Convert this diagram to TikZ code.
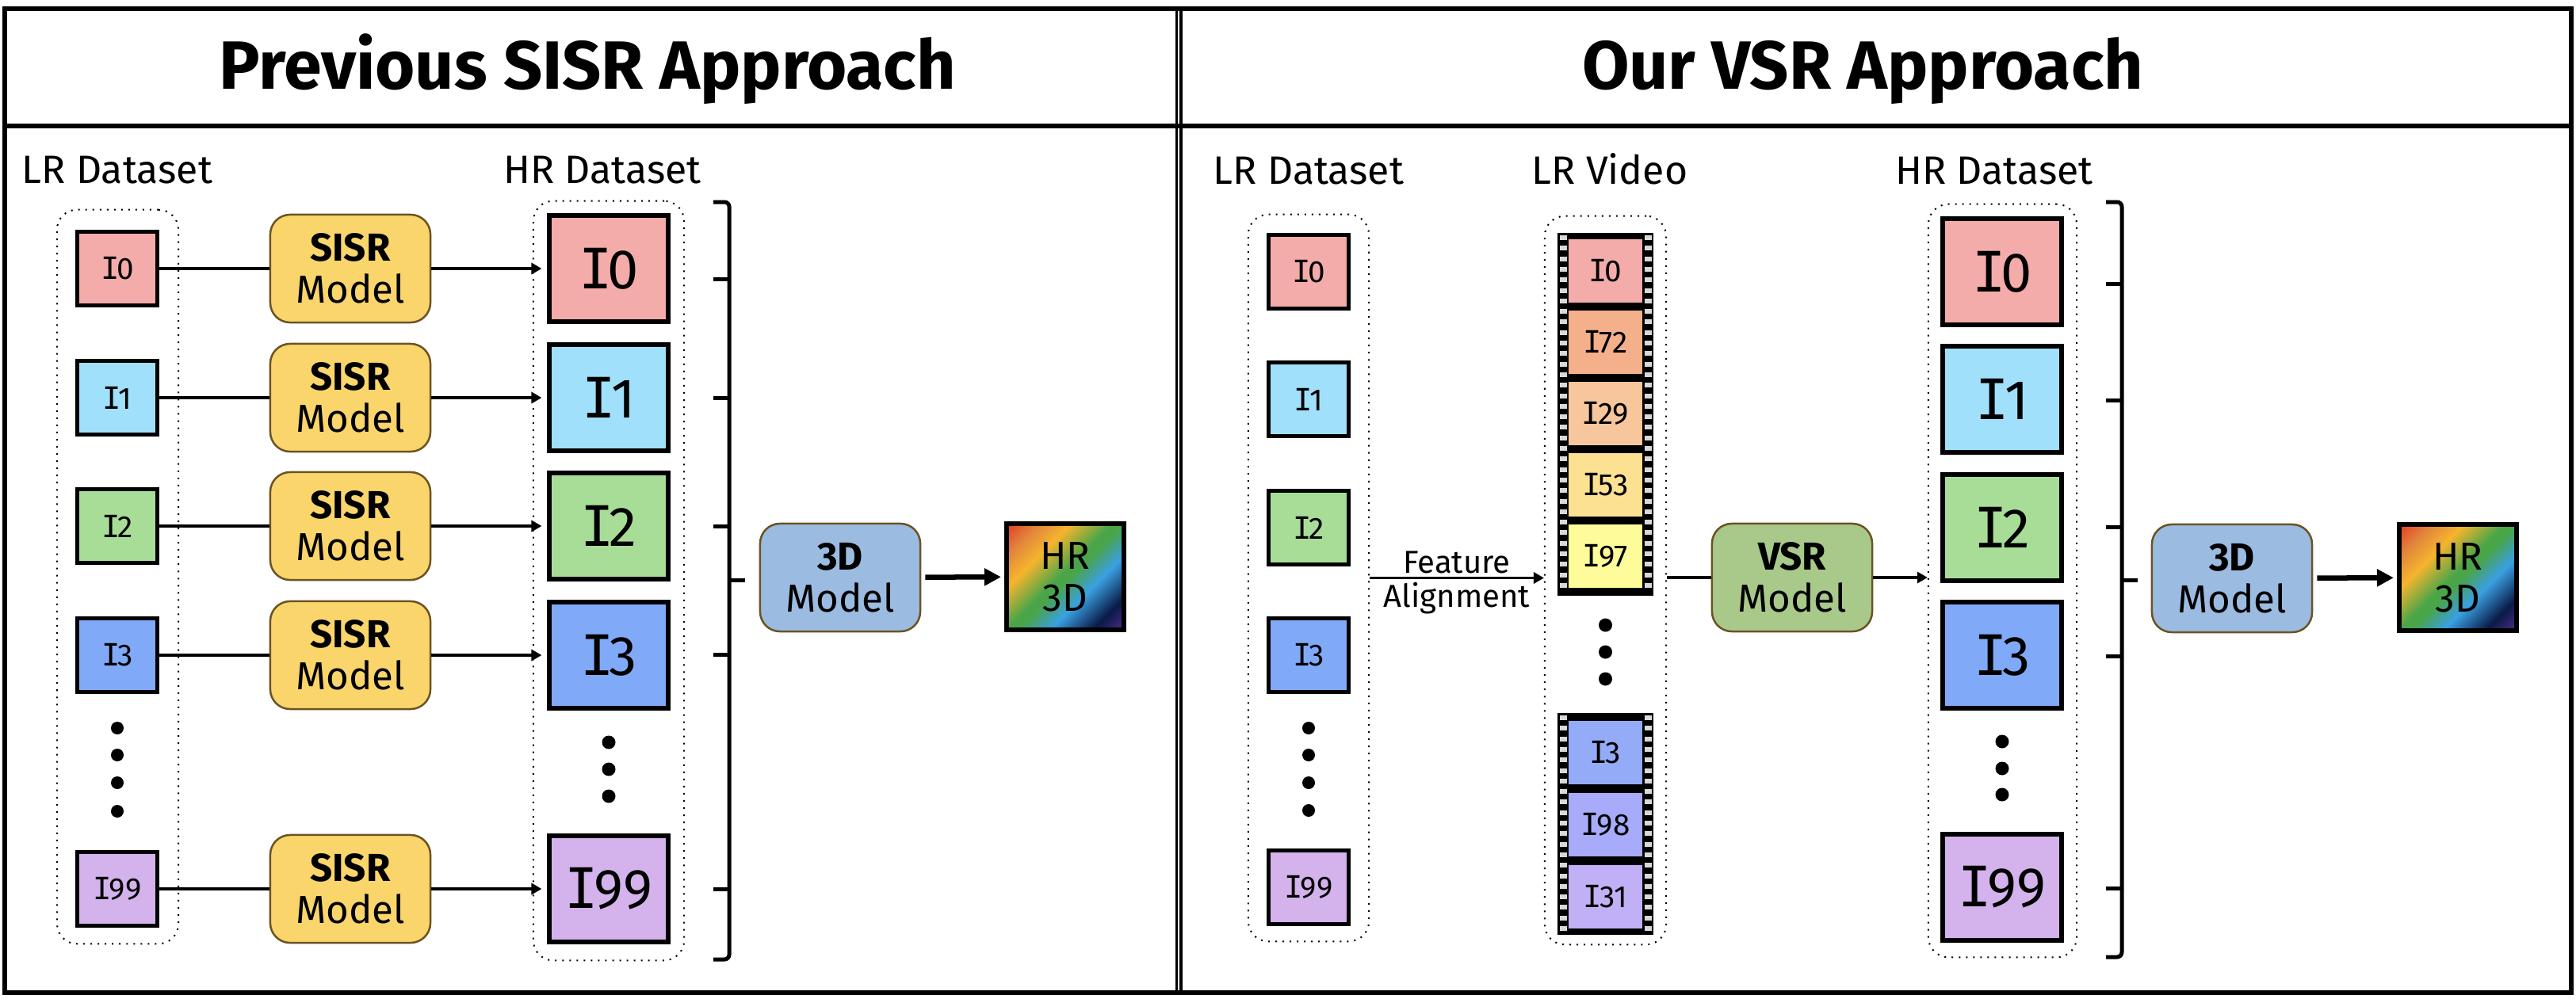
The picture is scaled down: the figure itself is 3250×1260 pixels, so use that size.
\documentclass[tikz,border=0pt]{standalone}
\usepackage{fontspec}
\setmainfont{Fira Sans}
\newfontfamily\serifI{DejaVu Sans Mono}
\usetikzlibrary{arrows.meta}
\usetikzlibrary{shapes}

\definecolor{imgA}{HTML}{F4ACAB}
\definecolor{imgB}{HTML}{A0E0FB}
\definecolor{imgC}{HTML}{A8DD98}
\definecolor{imgD}{HTML}{80AAF8}
\definecolor{imgE}{HTML}{D4B2EC}
\definecolor{vidA}{HTML}{F4ACAB}
\definecolor{vidB}{HTML}{F4B08A}
\definecolor{vidC}{HTML}{F7C69C}
\definecolor{vidD}{HTML}{FBE191}
\definecolor{vidE}{HTML}{FDFB9A}
\definecolor{vidF}{HTML}{94ACF8}
\definecolor{vidG}{HTML}{A7ABF9}
\definecolor{vidH}{HTML}{C2B0F7}
\definecolor{sisrFill}{HTML}{F9D56B}
\definecolor{vsrFill}{HTML}{A9C98A}
\definecolor{modelFill}{HTML}{9BBBE0}
\definecolor{modelBorder}{HTML}{6B5323}
\definecolor{holeGray}{HTML}{D9D9D9}
\definecolor{shA}{HTML}{E53A22}
\definecolor{shB}{HTML}{E0843C}
\definecolor{shC}{HTML}{F6B42E}
\definecolor{shD}{HTML}{4AA548}
\definecolor{shE}{HTML}{43A185}
\definecolor{shF}{HTML}{3AA0E2}
\definecolor{shG}{HTML}{0A1A47}
\definecolor{shH}{HTML}{4B2D8A}

\pgfdeclarehorizontalshading{rainbowShade}{100bp}{color(0bp)=(shA); color(14.6bp)=(shA); color(24.5bp)=(shB); color(35bp)=(shC); color(48bp)=(shD); color(51.5bp)=(shD); color(55.7bp)=(shE); color(62bp)=(shF); color(75.5bp)=(shG); color(85.4bp)=(shH); color(100bp)=(shH)}

\newcommand{\fr}[1]{{\serifI I}\kern-0.08em#1}

\begin{document}
\begin{tikzpicture}[x = 0.01cm, y = -0.01cm]
	\tikzstyle{frameStyle}=[line width = 0.06cm]
	\tikzstyle{titleStyle}=[anchor = base, font = \fontsize{24.5}{28}\selectfont\bfseries]
	\tikzstyle{headStyle}=[anchor = base, font = \fontsize{14.2}{17}\selectfont]
	\tikzstyle{groupStyle}=[draw, dotted, line width = 0.02cm, rounded corners = 0.25cm]
	\tikzstyle{lrStyle}=[draw, line width = 0.05cm, minimum width = 1.0cm, minimum height = 0.93cm, inner sep = 0pt, font = \fontsize{11}{13}\selectfont]
	\tikzstyle{hrStyle}=[draw, line width = 0.06cm, minimum width = 1.49cm, minimum height = 1.34cm, inner sep = 0pt, font = \fontsize{20}{24}\selectfont]
	\tikzstyle{cellStyle}=[minimum width = 0.92cm, minimum height = 0.80cm, inner sep = 0pt, font = \fontsize{11}{13}\selectfont]
	\tikzstyle{stripStyle}=[fill = black, minimum width = 1.21cm, inner sep = 0pt]
	\tikzstyle{holeStyle}=[fill = holeGray]
	\tikzstyle{modelStyle}=[draw = modelBorder, line width = 0.025cm, rounded corners = 0.25cm, minimum width = 2.02cm, minimum height = 1.36cm, align = center, font = \fontsize{14}{15}\selectfont]
	\tikzstyle{resultStyle}=[draw, line width = 0.06cm, minimum width = 1.48cm, minimum height = 1.34cm, shading = rainbowShade, shading angle = -45, align = center, font = \fontsize{14}{15}\selectfont]
	\tikzstyle{braceStyle}=[line width = 0.05cm]
	\tikzstyle{lineStyle}=[line width = 0.045cm]
	\tikzstyle{arrowStyle}=[line width = 0.045cm, -{Triangle[length = 0.13cm, width = 0.14cm]}]
	\tikzstyle{thinArrowStyle}=[line width = 0.035cm, -{Triangle[length = 0.13cm, width = 0.14cm]}]
	\tikzstyle{bigArrowStyle}=[line width = 0.065cm, -{Triangle[length = 0.21cm, width = 0.21cm]}]
	\tikzstyle{labelStyle}=[inner sep = 1pt, font = \fontsize{11.4}{13}\selectfont]
	\useasboundingbox (0,0) rectangle (3250,1260);

	% frame and headers
	\draw[frameStyle] (6,11) rectangle (3244,1253);
	\draw[frameStyle] (6,159) -- (3244,159);
	\draw[line width = 0.035cm] (1484.5,11) -- (1484.5,1253);
	\draw[line width = 0.035cm] (1490,11) -- (1490,1253);
	\node[titleStyle] (titleL) at (741,112) {Previous SISR Approach};
	\node[titleStyle] (titleR) at (2350,112) {Our VSR Approach};

	% previous SISR approach
	\node[headStyle] (lrHeadL) at (148,231) {LR Dataset};
	\node[headStyle] (hrHeadL) at (760,231) {HR Dataset};
	\node[groupStyle, minimum width = 1.53cm, minimum height = 9.26cm] (lrGroupL) at (148.5,728) {};
	\node[groupStyle, minimum width = 1.90cm, minimum height = 9.58cm] (hrGroupL) at (768,733) {};
	\foreach \n/\c/\y in {0/imgA/339, 1/imgB/502, 2/imgC/664, 3/imgD/827, 99/imgE/1122} {
		\node[lrStyle, fill = \c] (lrL\n) at (148,\y) {\fr{\n}};
		\node[modelStyle, fill = sisrFill] (sisr\n) at (442,\y) {\textbf{SISR}\\Model};
		\node[hrStyle, fill = \c] (hrL\n) at (768,\y) {\fr{\n}};
		\draw[lineStyle] (lrL\n) -- (sisr\n);
		\draw[arrowStyle, shorten >= 0.07cm] (sisr\n) -- (hrL\n);
	}
	\foreach \y in {919,953,988,1024} \fill (148,\y) circle[radius = 0.08cm];
	\foreach \y in {937,971,1005} \fill (768,\y) circle[radius = 0.085cm];
	\draw[braceStyle, rounded corners = 0.06cm] (900,255) -- (920,255) -- (920,1211) -- (900,1211);
	\foreach \y in {352,502,664,826,1122} \draw[braceStyle] (900,\y) -- (920,\y);
	\draw[braceStyle] (920,732) -- (940,732);
	\node[modelStyle, fill = modelFill] (modelL) at (1060,729) {\textbf{3D}\\Model};
	\node[resultStyle] (resultL) at (1344,728) {HR\\3D};
	\draw[bigArrowStyle, shorten <= 0.05cm, shorten >= 0.04cm] (modelL) -- (resultL);

	% our VSR approach
	\node[headStyle] (lrHeadR) at (1651,232) {LR Dataset};
	\node[headStyle] (vidHead) at (2031,232) {LR Video};
	\node[headStyle] (hrHeadR) at (2516,232) {HR Dataset};
	\node[groupStyle, minimum width = 1.52cm, minimum height = 9.17cm] (lrGroupR) at (1651,729.5) {};
	\node[groupStyle, minimum width = 1.53cm, minimum height = 9.19cm] (vidGroup) at (2025.5,732.5) {};
	\node[groupStyle, minimum width = 1.87cm, minimum height = 9.50cm] (hrGroupR) at (2526.5,733) {};
	\foreach \n/\c/\y in {0/imgA/343, 1/imgB/504, 2/imgC/666, 3/imgD/827, 99/imgE/1120} {
		\node[lrStyle, fill = \c] (lrR\n) at (1651,\y) {\fr{\n}};
		\node[hrStyle, fill = \c] (hrR\n) at (2526,\y) {\fr{\n}};
	}
	\foreach \y in {919,953,988,1023} \fill (1651,\y) circle[radius = 0.08cm];
	\foreach \y in {936,970,1003} \fill (2526,\y) circle[radius = 0.085cm];

	% film strips
	\node[stripStyle, minimum height = 4.58cm] (stripA) at (2025.5,523) {};
	\node[stripStyle, minimum height = 2.80cm] (stripB) at (2025.5,1040) {};
	\foreach \k in {0,...,33} {
		\fill[holeStyle] (1968,297+13.3*\k) rectangle ++(9,6);
		\fill[holeStyle] (2075,297+13.3*\k) rectangle ++(9,6);
	}
	\foreach \k in {0,...,20} {
		\fill[holeStyle] (1968,903+13.3*\k) rectangle ++(9,6);
		\fill[holeStyle] (2075,903+13.3*\k) rectangle ++(9,6);
	}
	\foreach \n/\c/\y in {0/vidA/342, 72/vidB/432, 29/vidC/522, 53/vidD/612, 97/vidE/702, 3/vidF/950, 98/vidG/1041, 31/vidH/1132}
		\node[cellStyle, fill = \c] (vid\n) at (2025.5,\y) {\fr{\n}};
	\foreach \y in {789,823,857} \fill (2025.5,\y) circle[radius = 0.085cm];

	\node[modelStyle, fill = vsrFill] (vsr) at (2261,729) {\textbf{VSR}\\Model};
	\draw[thinArrowStyle] (lrGroupR.east) -- node[above, labelStyle] {Feature} node[below, labelStyle] {Alignment} (vidGroup.west |- lrGroupR.east);
	\draw[lineStyle] (vidGroup.east |- vsr.west) -- (vsr.west);
	\draw[arrowStyle] (vsr.east) -- (hrGroupR.west |- vsr.east);
	\draw[braceStyle, rounded corners = 0.06cm] (2657,255) -- (2677,255) -- (2677,1208) -- (2657,1208);
	\foreach \y in {358,505,665,828,1121} \draw[braceStyle] (2657,\y) -- (2677,\y);
	\draw[braceStyle] (2677,732) -- (2697,732);
	\node[modelStyle, fill = modelFill] (modelR) at (2816,730) {\textbf{3D}\\Model};
	\node[resultStyle] (resultR) at (3101,729) {HR\\3D};
	\draw[bigArrowStyle, shorten <= 0.05cm, shorten >= 0.04cm] (modelR) -- (resultR);
\end{tikzpicture}
\end{document}
